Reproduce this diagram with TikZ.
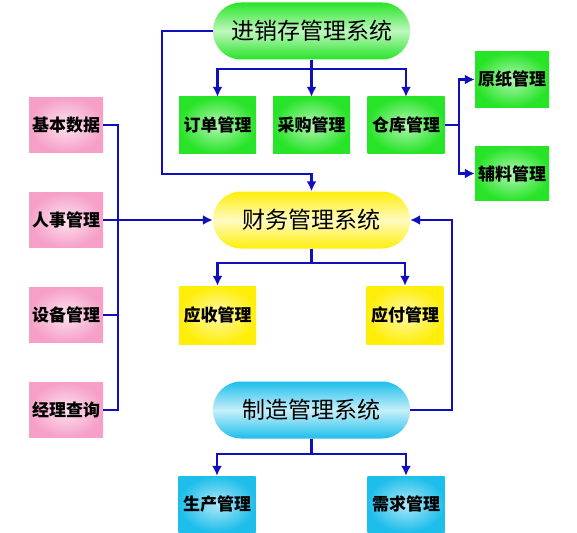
\documentclass[tikz,border=0pt]{standalone}
\usepackage{fontspec}
\usepackage{tikz}
\usetikzlibrary{arrows.meta}
\newfontfamily\cjk{Noto Sans CJK SC}

\definecolor{boxgreen}{RGB}{40,228,40}
\definecolor{boxpink}{RGB}{246,160,200}
\definecolor{boxyellow}{RGB}{255,238,10}
\definecolor{boxcyan}{RGB}{30,190,235}
\definecolor{linkblue}{RGB}{15,15,190}

\tikzset{
  modbox/.style={rectangle, inner sep=0pt, minimum width=77pt, minimum height=56pt,
    font=\cjk\bfseries\fontsize{17}{19}\selectfont},
  greenbox/.style={modbox, inner color=white!65!boxgreen, outer color=boxgreen},
  pinkbox/.style={modbox, minimum width=74pt, minimum height=55pt, inner color=white!70!boxpink, outer color=boxpink},
  yellowbox/.style={modbox, minimum height=58pt, inner color=white!65!boxyellow, outer color=boxyellow},
  cyanbox/.style={modbox, inner color=white!65!boxcyan, outer color=boxcyan},
  sysnode/.style={rectangle, rounded corners=28pt, inner sep=0pt, minimum width=197pt, minimum height=57pt,
    font=\cjk\fontsize{23}{26}\selectfont},
  link/.style={draw=linkblue, line width=2.2pt},
  conn/.style={link, -{Latex[length=10pt,width=10pt]}}
}

\begin{document}
\begin{tikzpicture}[x=1pt, y=-1pt]
        \useasboundingbox[fill=white] (0,0) rectangle (577,532);
        \clip (0,0) rectangle (577,532);

        % systems
        \node[sysnode, top color=boxgreen, bottom color=boxgreen, middle color=white!70!boxgreen] (jxc) at (311.5,31) {进销存管理系统};
        \node[sysnode, top color=boxyellow, bottom color=boxyellow, middle color=white!75!boxyellow] (cw) at (311.5,220) {财务管理系统};
        \node[sysnode, top color=boxcyan, bottom color=boxcyan, middle color=white!75!boxcyan] (zz) at (311.5,410) {制造管理系统};

        % modules
        \node[greenbox] (dd) at (217.5,125) {订单管理};
        \node[greenbox] (cg) at (311.5,125) {采购管理};
        \node[greenbox] (ck) at (406,125) {仓库管理};
        \node[greenbox, minimum width=74pt, minimum height=55pt] (yz) at (512,79.5) {原纸管理};
        \node[greenbox, minimum width=74pt, minimum height=54pt] (fl) at (512,173.5) {辅料管理};

        \node[pinkbox] (jbsj) at (66,125) {基本数据};
        \node[pinkbox] (rsgl) at (66,220) {人事管理};
        \node[pinkbox] (sbgl) at (66,315) {设备管理};
        \node[pinkbox] (jlcx) at (66,410) {经理查询};

        \node[yellowbox] (ys) at (217.5,315) {应收管理};
        \node[yellowbox] (yf) at (405,315) {应付管理};

        \node[cyanbox] (sc) at (217,504) {生产管理};
        \node[cyanbox] (xq) at (406,504) {需求管理};

        \coordinate (spine) at (118,0);
        \coordinate (loop) at (162,174);

        % connectors
        \draw[conn] (jxc.south) -- ++(0,9) -| (dd.north);
        \draw[conn] (jxc.south) -- (cg.north);
        \draw[conn] (jxc.south) -- ++(0,9) -| (ck.north);
        \draw[link] (ck.east) -- ++(14,0) coordinate (ckb);
        \draw[conn] (ckb) |- (yz.west);
        \draw[conn] (ckb) |- (fl.west);
        \draw[conn] (jxc.west) -| (loop) -| (cw.north);

        \draw[link] (jbsj.east) -| (spine |- jbsj.east) |- (jlcx.east);
        \draw[link] (sbgl.east) -- (spine |- sbgl.east);
        \draw[conn] (rsgl.east) -- (cw.west);

        \draw[conn] (cw.south) -- ++(0,14) -| (ys.north);
        \draw[conn] (cw.south) -- ++(0,14) -| (yf.north);

        \draw[conn] (zz.east) -- ++(42,0) |- (cw.east);
        \draw[conn] (zz.south) -- ++(0,15) -| (sc.north);
        \draw[conn] (zz.south) -- ++(0,15) -| (xq.north);
    \end{tikzpicture}
\end{document}
